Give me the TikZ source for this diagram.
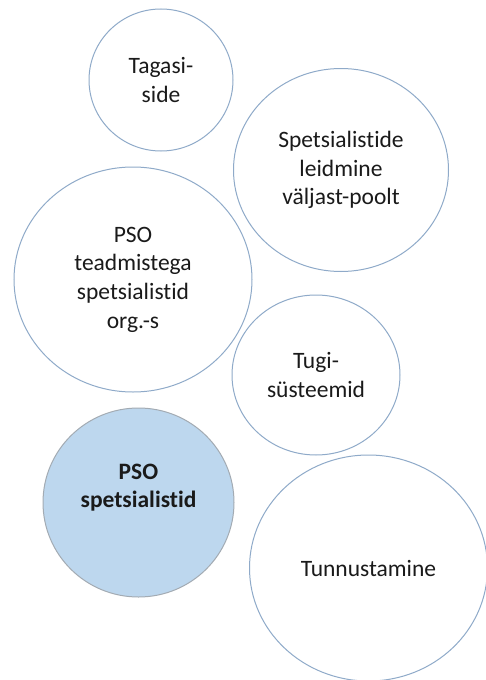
\documentclass[tikz,border=0pt]{standalone}
\usepackage{fontspec}
\setmainfont[Ligatures=NoCommon]{Carlito}
\usetikzlibrary{shapes.geometric}
\definecolor{ringblue}{HTML}{8FAAC9}
\definecolor{fillblue}{HTML}{BDD7EE}
\definecolor{ringgray}{HTML}{A3ABB3}
\definecolor{txt}{HTML}{1A1A1A}
\tikzset{
  bubble/.style={ellipse, draw=ringblue, line width=1pt, fill=white, inner sep=0pt,
    align=center, text=txt, font=\fontsize{23.5}{28.7}\selectfont},
  hubble/.style={bubble, draw=ringgray, fill=fillblue, font=\fontsize{23.5}{28.7}\selectfont\bfseries}
}
\begin{document}
\begin{tikzpicture}[x=1pt,y=-1pt]
\useasboundingbox[fill=white] (0,0) rectangle (486,680);
\node[bubble, minimum width=144pt, minimum height=142pt] (tagasi) at (161,80) {Tagasi-\\side};
\node[bubble, minimum width=215pt, minimum height=203pt] (leid) at (341,170) {Spetsialistide\\leidmine\\väljast-poolt};
\node[bubble, minimum width=238pt, minimum height=225pt] (teadm) at (133,279.5) {PSO\\teadmistega\\spetsialistid\\org.-s};
\node[bubble, minimum width=168pt, minimum height=160pt] (tugi) at (316,375) {Tugi-\\süsteemid};
\node[hubble, minimum width=191pt, minimum height=189pt] (pso) at (138.5,502.5) {PSO\\spetsialistid\\[5pt]};
\node[bubble, minimum width=238pt, minimum height=226pt] (tunn) at (368.5,568) {Tunnustamine};
\end{tikzpicture}
\end{document}
